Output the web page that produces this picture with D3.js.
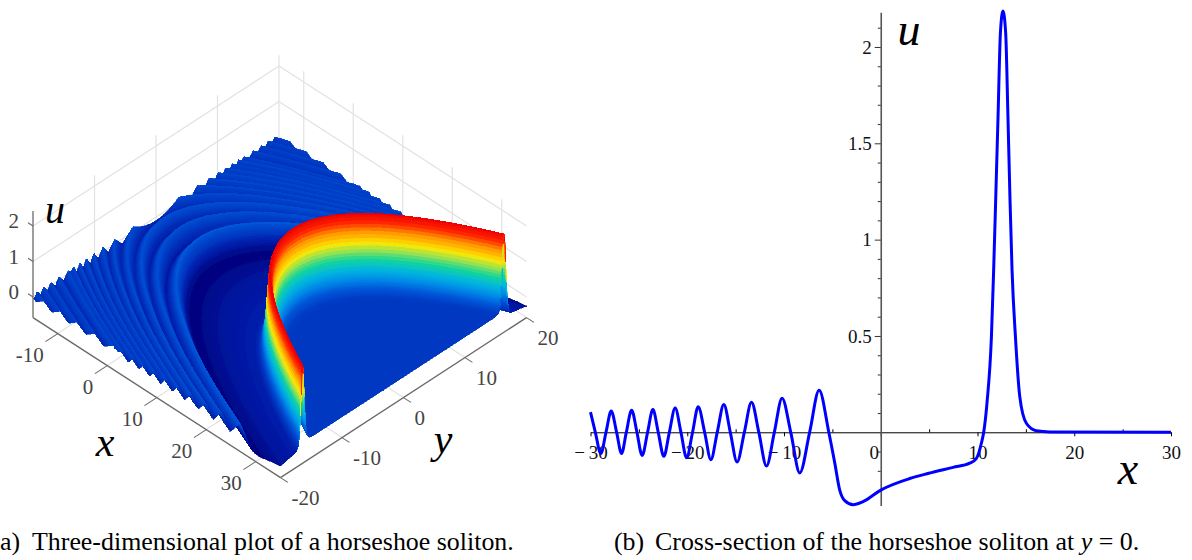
<!DOCTYPE html>
<html>
<head>
<meta charset="utf-8">
<script src="https://cdn.jsdelivr.net/npm/d3@7"></script>
<style>
html, body { margin: 0; padding: 0; background: #fff; }
svg { display: block; font-family: "Liberation Serif", serif; }
</style>
</head>
<body>
<div id="chart"></div>
<script>
// cross-section at y = 0
const curveX = [-30, -29.5, -28.93, -28.4, -27.86, -27.3, -26.79, -26.3, -25.75, -25.2, -24.66, -24.1, -23.55, -23, -22.42, -21.85, -21.25, -20.65, -20.07, -19.45, -18.87, -18.2, -17.56, -16.9, -16.22, -15.55, -14.85, -14.1, -13.36, -12.6, -11.81, -11, -10.2, -9.3, -8.37, -7.35, -6.37, -5.37, -4.75, -4.24, -3.72, -2.86, -1.83, 0, 3, 4.96, 7.47, 9.2, 9.89, 10.4, 10.64, 10.98, 11.44, 11.67, 11.88, 12.12, 12.37, 12.63, 12.91, 13.15, 13.36, 13.57, 13.92, 14.37, 15.05, 16.09, 17.46, 30];
const curveU = [0.105, 0, -0.11, 0, 0.11, 0, -0.11, 0, 0.114, 0, -0.12, 0, 0.118, 0, -0.125, 0, 0.126, 0, -0.132, 0, 0.133, 0, -0.142, 0, 0.144, 0, -0.154, 0, 0.156, 0, -0.175, 0, 0.177, 0, -0.211, 0, 0.218, 0, -0.16, -0.3, -0.355, -0.376, -0.36, -0.3, -0.24, -0.213, -0.182, -0.16, -0.135, -0.057, 0, 0.152, 0.497, 0.843, 1.207, 1.633, 2.075, 2.187, 2.075, 1.633, 1.207, 0.843, 0.497, 0.185, 0.047, 0.008, 0.002, 0];

// ripples further out than the cross-section shows
const farX = [-50, -49.2, -48.4, -47.6, -46.8, -46, -45.2, -44.4, -43.55, -42.7, -41.85, -41, -40.15, -39.3, -38.4, -37.5, -36.6, -35.7, -34.8, -33.85, -32.9, -31.95, -31];
const farU = [0, 0.08, 0, -0.08, 0, 0.085, 0, -0.085, 0, 0.09, 0, -0.09, 0, 0.09, 0, -0.095, 0, 0.095, 0, -0.1, 0, 0.1, 0];

// how far the crest is pushed along x at each y = -20, -18 ... 20 (left panel)
const crestShift = [33.2, 26.9, 21.2, 16.3, 12, 8.3, 5.3, 3, 1.3, 0.3, 0, 0.3, 1.3, 3, 5.3, 8.3, 12, 16.3, 21.2, 26.9, 33.2];

// colour of the surface against height
const colourU = [-0.38, -0.2, 0, 0.2, 0.45, 0.7, 0.95, 1.15, 1.4, 1.7, 1.95, 2.18];
const colourHex = ["#00047e", "#0018a4", "#0036c0", "#0056d8", "#008ce8", "#04b8dc", "#10d49c", "#80e060", "#ffe800", "#ff9400", "#ff2800", "#ee0000"];

const xTicks3d = [-10, 0, 10, 20, 30];
const yTicks3d = [-20, -10, 0, 10, 20];
const uTicks3d = [0, 1, 2];
const xWallLines = [-10, 0, 10, 20, 30];
const yWallLines = [-10, 0, 10, 20];

const xMajor = [-30, -20, -10, 0, 10, 20, 30];
const xMinor = [-25, -15, -5, 5, 15, 25];
const uMajor = [0.5, 1, 1.5, 2];
const uMinor = [-0.3, -0.2, -0.1, 0.1, 0.2, 0.3, 0.4, 0.6, 0.7, 0.8, 0.9, 1.1, 1.2, 1.3, 1.4, 1.6, 1.7, 1.8, 1.9, 2.1];

const svg = d3.select("#chart").append("svg").attr("width", 1192).attr("height", 560);

// slight softening of the surface, its thin rows otherwise show aliasing
svg.append("defs").append("filter").attr("id", "soften")
    .attr("filterUnits", "userSpaceOnUse")
    .attr("x", 0).attr("y", 100).attr("width", 570).attr("height", 400)
    .append("feGaussianBlur").attr("stdDeviation", 0.5);

// --- left panel: oblique projection of (x, y, u) onto the page
const xToLeft = d3.scaleLinear().domain([-15, 35]).range([33, 280.5]);
const yToLeft = d3.scaleLinear().domain([-20, 20]).range([0, 246]);
const xToTop = d3.scaleLinear().domain([-15, 35]).range([297, 457]);
const yToTop = d3.scaleLinear().domain([-20, 20]).range([0, -160]);
const uToTop = d3.scaleLinear().domain([0, 1]).range([0, -35.5]);
const uBase = -0.58;

function project(x, y, u) {
    return [xToLeft(x) + yToLeft(y), xToTop(x) + yToTop(y) + uToTop(u)];
}

const left = svg.append("g");

function line3d(a, b, colour, width) {
    const p = project(a[0], a[1], a[2]);
    const q = project(b[0], b[1], b[2]);
    left.append("line")
        .attr("x1", p[0]).attr("y1", p[1]).attr("x2", q[0]).attr("y2", q[1])
        .attr("stroke", colour).attr("stroke-width", width);
}

// back walls and floor
const gridColour = "#e2e2e2";
yWallLines.forEach(y => line3d([-15, y, uBase], [-15, y, 2.3], gridColour, 1.2));
xWallLines.forEach(x => line3d([x, 20, uBase], [x, 20, 2.3], gridColour, 1.2));
uTicks3d.forEach(u => {
    line3d([-15, -20, u], [-15, 20, u], gridColour, 1.2);
    line3d([-15, 20, u], [35, 20, u], gridColour, 1.2);
});
xTicks3d.forEach(x => line3d([x, -20, uBase], [x, 20, uBase], gridColour, 1.2));
yTicks3d.forEach(y => line3d([-15, y, uBase], [35, y, uBase], gridColour, 1.2));

// surface: the profile slid along x by the crest table, cells run along the wave fronts
const profile = d3.scaleLinear().domain(farX.concat(curveX)).range(farU.concat(curveU)).clamp(true);
const shiftAt = d3.interpolateBasis(crestShift);
const clampX = d3.scaleLinear().domain([-15, 35]).range([-15, 35]).clamp(true);

const colourScale = d3.scaleLinear().domain(colourU).range(colourHex).clamp(true);
const levels = d3.range(130).map(i => colourScale(-0.4 + (i + 0.5) * 2.6 / 130));
const level = d3.scaleQuantize().domain([-0.4, 2.2]).range(levels);

const waveFronts = d3.range(-50, 10, 0.2).concat(d3.range(10, 17, 0.05), d3.range(17, 36, 1));
const cellColour = waveFronts.slice(1).map((s, i) => level(profile((s + waveFronts[i]) / 2)));

// rows from the far side to the near side, so nearer rows paint over
const rowStep = 0.125;
const rowsY = d3.range(20, -20, -rowStep);
const patches = [];
rowsY.forEach(y0 => {
    const y1 = Math.max(y0 - rowStep, -20);
    const shift0 = shiftAt((y0 + 20) / 40);
    const shift1 = shiftAt((y1 + 20) / 40);
    const x0 = waveFronts.map(s => clampX(s + shift0));
    const x1 = waveFronts.map(s => clampX(s + shift1));
    const back = x0.map(x => project(x, y0, profile(x - shift0)));
    const front = x1.map(x => project(x, y1, profile(x - shift1)));
    const inside = i => !(x0[i] === x0[i + 1] && x1[i] === x1[i + 1]);
    let start = -1;
    for (let i = 0; i < cellColour.length; i++) {
        if (!inside(i)) continue;
        if (start < 0) start = i;
        const more = i + 1 < cellColour.length && inside(i + 1) && cellColour[i + 1] === cellColour[i];
        if (!more) {
            patches.push({
                points: back.slice(start, i + 2).concat(front.slice(start, i + 2).reverse()),
                colour: cellColour[i]
            });
            start = -1;
        }
    }
});

const outline = d3.line().curve(d3.curveLinearClosed);
left.append("g")
    .attr("filter", "url(#soften)")
    .attr("shape-rendering", "crispEdges")
    .selectAll("path")
    .data(patches)
    .join("path")
    .attr("d", d => outline(d.points))
    .attr("fill", d => d.colour)
    .attr("stroke", d => d.colour)
    .attr("stroke-width", 0.6);

// axes of the left panel
const axisColour = "#6a6a6a";
line3d([-15, -20, uBase], [35, -20, uBase], axisColour, 1.3);
line3d([35, -20, uBase], [35, 20, uBase], axisColour, 1.3);
line3d([-15, -20, uBase], [-15, -20, 2.42], axisColour, 1.3);

const tickText = "#444";
xTicks3d.forEach(x => {
    line3d([x, -20, uBase], [x, -22, uBase], axisColour, 1.1);
    const p = project(x, -20, uBase);
    left.append("text").attr("x", p[0] - 14).attr("y", p[1] + 28)
        .attr("text-anchor", "end").attr("font-size", 21).attr("fill", tickText).text(x);
});
yTicks3d.forEach(y => {
    line3d([35, y, uBase], [36.5, y, uBase], axisColour, 1.1);
    const p = project(35, y, uBase);
    left.append("text").attr("x", p[0] + 11).attr("y", p[1] + 27)
        .attr("text-anchor", "start").attr("font-size", 21).attr("fill", tickText).text(y);
});
uTicks3d.forEach(u => {
    line3d([-15, -20, u], [-16, -20, u], axisColour, 1.1);
    const p = project(-15, -20, u);
    left.append("text").attr("x", p[0] - 14).attr("y", p[1] + 2)
        .attr("text-anchor", "end").attr("font-size", 21).attr("fill", tickText).text(u);
});

function bigLabel(text, cx, cy, size) {
    svg.append("text").attr("x", cx).attr("y", cy)
        .attr("text-anchor", "middle")
        .attr("font-size", size).attr("font-style", "italic").attr("fill", "#000")
        .text(text);
}
bigLabel("u", 55, 223, 40);
bigLabel("x", 105, 456, 42);
bigLabel("y", 443, 453, 42);

// --- right panel: the cross-section
const xScale = d3.scaleLinear().domain([-30, 30]).range([590.5, 1171]);
const uScale = d3.scaleLinear().domain([-0.38, 2.18]).range([505.5, 12.3]);

const right = svg.append("g");

const xAxisY = uScale(0), uAxisX = xScale(0);

const xMinorAxis = right.append("g").attr("transform", `translate(0,${xAxisY})`)
    .call(d3.axisTop(xScale).tickValues(xMinor).tickSize(3).tickSizeOuter(0).tickFormat(""));
const xMajorAxis = right.append("g").attr("transform", `translate(0,${xAxisY})`)
    .call(d3.axisBottom(xScale).tickValues(xMajor).tickSize(4).tickSizeOuter(0).tickPadding(9)
        .tickFormat(d => d < 0 ? "\u2212\u2009" + (-d) : d));
xMajorAxis.selectAll("text").attr("font-size", 19).attr("font-family", "Liberation Serif").attr("fill", "#111")
    .attr("dx", d => d === 0 ? -7 : 0);
xMinorAxis.select(".domain").remove();

const uAxis = right.append("g").attr("transform", `translate(${uAxisX},0)`)
    .call(d3.axisLeft(uScale).tickValues(uMajor).tickSize(6).tickSizeOuter(0).tickPadding(3).tickFormat(d3.format("")));
uAxis.selectAll("text").attr("font-size", 19).attr("font-family", "Liberation Serif").attr("fill", "#111");
uAxis.select(".domain").attr("stroke", "#555").attr("stroke-width", 1.6);
uAxis.selectAll(".tick line").attr("stroke", "#333");
const uMinorAxis = right.append("g").attr("transform", `translate(${uAxisX},0)`)
    .call(d3.axisLeft(uScale).tickValues(uMinor).tickSize(3).tickSizeOuter(0).tickFormat(""));
uMinorAxis.select(".domain").remove();
uMinorAxis.selectAll(".tick line").attr("stroke", "#333");

const curvePoints = curveX.map((x, i) => [x, curveU[i]]);
const curveLine = d3.line()
    .x(d => xScale(d[0]))
    .y(d => uScale(d[1]))
    .curve(d3.curveMonotoneX);
right.append("path")
    .attr("d", curveLine(curvePoints))
    .attr("fill", "none")
    .attr("stroke", "#0000ff")
    .attr("stroke-width", 3);

bigLabel("u", 909, 45, 46);
bigLabel("x", 1128, 484, 46);

// captions, the first one starts at the page edge as in the reference
function caption(parts) {
    const t = svg.append("text").attr("y", 550).attr("font-size", 25.9).attr("fill", "#000");
    parts.forEach(p => {
        const span = t.append("tspan").attr("font-style", p.italic ? "italic" : "normal").text(p.text);
        if (p.x !== undefined) span.attr("x", p.x);
    });
}
caption([{ text: "a)", x: 0 }, { text: "Three-dimensional plot of a horseshoe soliton.", x: 32 }]);
caption([{ text: "(b)", x: 614 }, { text: "Cross-section of the horseshoe soliton at ", x: 655 }, { text: "y", italic: true }, { text: " = 0." }]);
</script>
</body>
</html>
